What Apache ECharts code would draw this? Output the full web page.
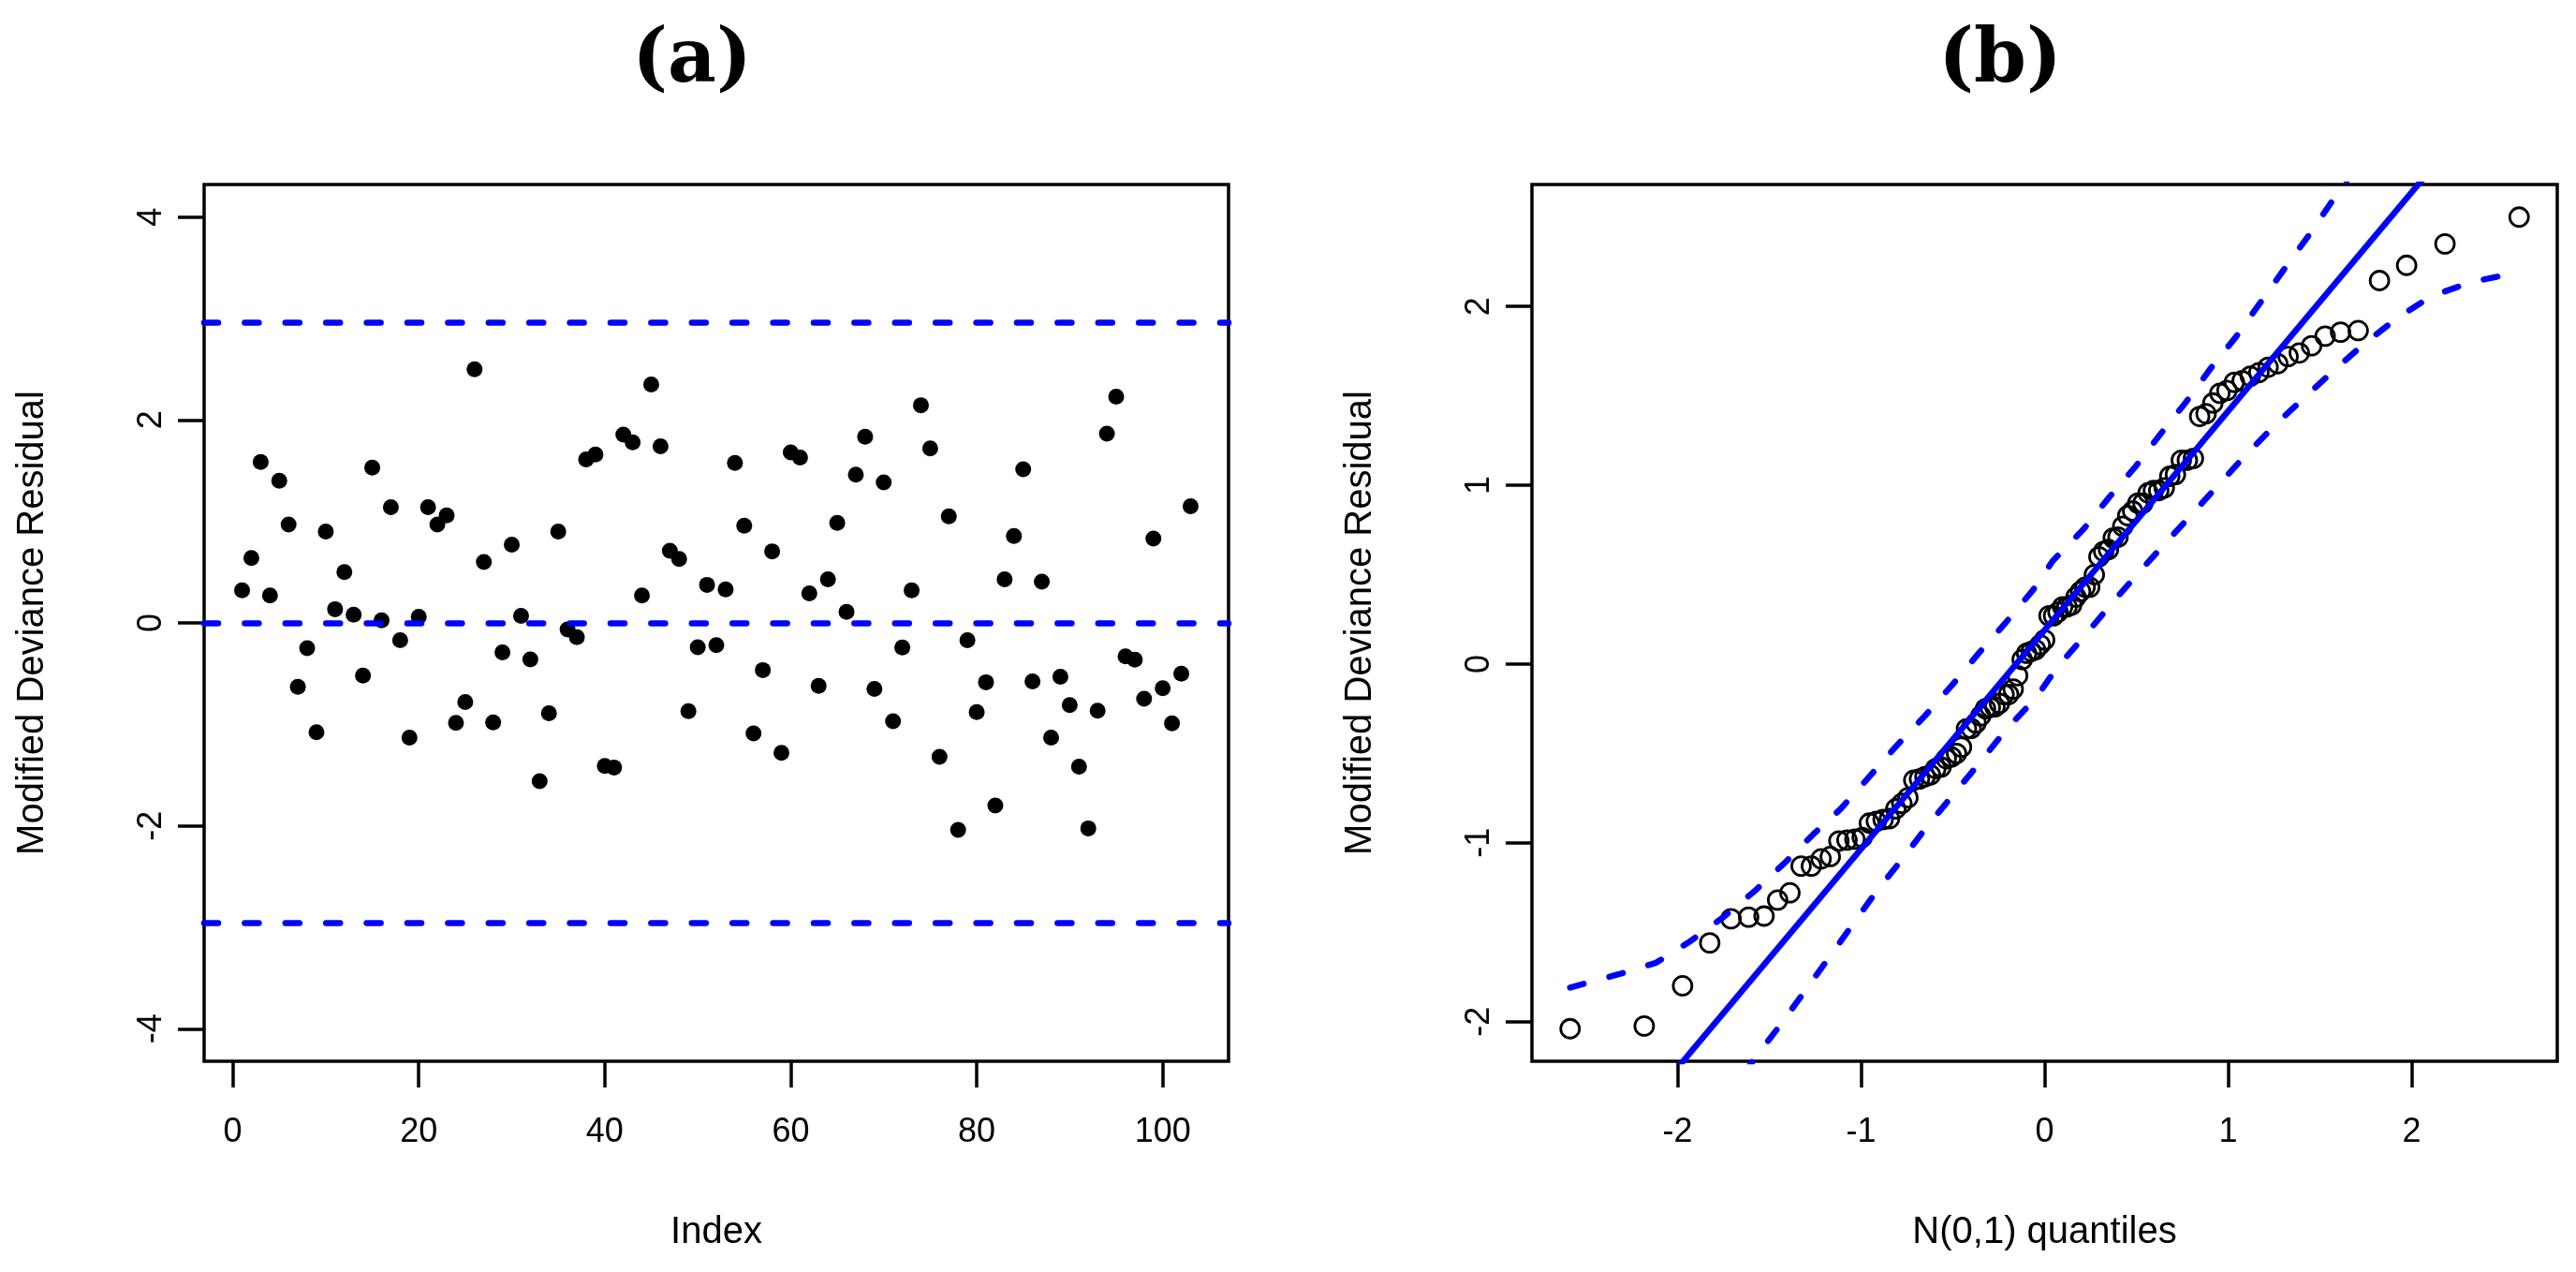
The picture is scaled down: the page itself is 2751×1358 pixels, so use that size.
<!DOCTYPE html>
<html>
<head>
<meta charset="utf-8">
<script src="https://cdn.jsdelivr.net/npm/echarts@6.0.0/dist/echarts.min.js"></script>
<style>
  html, body { margin: 0; padding: 0; background: #fff; }
  #main { width: 2751px; height: 1358px; }
</style>
</head>
<body>
<div id="main"></div>
<script>
// modified deviance residuals, in observation order (1..103)
var residuals = [
  0.32, 0.64, 1.585, 0.27, 1.40, 0.97, -0.63, -0.25, -1.077, 0.90,
  0.135, 0.50, 0.08, -0.52, 1.53, 0.025, 1.14, -0.17, -1.13, 0.06,
  1.14, 0.97, 1.06, -0.985, -0.78, 2.50, 0.60, -0.98, -0.29, 0.77,
  0.07, -0.36, -1.56, -0.89, 0.90, -0.065, -0.14, 1.61, 1.66, -1.41,
  -1.425, 1.856, 1.78, 0.27, 2.35, 1.74, 0.71, 0.63, -0.87, -0.24,
  0.375, -0.22, 0.33, 1.576, 0.957, -1.09, -0.465, 0.705, -1.28, 1.68,
  1.63, 0.29, -0.62, 0.43, 0.985, 0.108, 1.46, 1.834, -0.65, 1.385,
  -0.97, -0.243, 0.32, 2.145, 1.72, -1.32, 1.05, -2.04, -0.17, -0.88,
  -0.585, -1.80, 0.43, 0.856, 1.514, -0.576, 0.406, -1.13, -0.53, -0.81,
  -1.416, -2.025, -0.865, 1.865, 2.23, -0.33, -0.363, -0.748, 0.83, -0.643,
  -0.99, -0.50, 1.15
];

// N(0,1) quantiles for 103 points
var normQuantiles = [
  -2.586, -2.182, -1.973, -1.825, -1.709, -1.613, -1.529, -1.455, -1.388, -1.327,
  -1.271, -1.218, -1.168, -1.121, -1.077, -1.034, -0.994, -0.955, -0.917, -0.880,
  -0.845, -0.811, -0.778, -0.745, -0.713, -0.682, -0.652, -0.622, -0.593, -0.564,
  -0.536, -0.508, -0.480, -0.453, -0.426, -0.400, -0.374, -0.348, -0.322, -0.296,
  -0.271, -0.246, -0.221, -0.196, -0.171, -0.147, -0.122, -0.098, -0.073, -0.049,
  -0.024, 0,
  0.024, 0.049, 0.073, 0.098, 0.122, 0.147, 0.171, 0.196, 0.221, 0.246,
  0.271, 0.296, 0.322, 0.348, 0.374, 0.400, 0.426, 0.453, 0.480, 0.508,
  0.536, 0.564, 0.593, 0.622, 0.652, 0.682, 0.713, 0.745, 0.778, 0.811,
  0.845, 0.880, 0.917, 0.955, 0.994, 1.034, 1.077, 1.121, 1.168, 1.218,
  1.271, 1.327, 1.388, 1.455, 1.529, 1.613, 1.709, 1.825, 1.973, 2.182,
  2.586
];

var limitLines = [-2.96, 0, 2.96];

var xTicksA = [0, 20, 40, 60, 80, 100];
var yTicksA = [-4, -2, 0, 2, 4];
var xTicksB = [-2, -1, 0, 1, 2];
var yTicksB = [-2, -1, 0, 1, 2];

// fitted line and pointwise envelope of the qq plot
var qqLineX = [-2.794, 2.794];
var qqLineY = [-3.23, 3.61];

var upperEnvX = [-2.586, -2.323, -2.117, -1.932, -1.756, -1.58, -1.414, -1.258, -1.111, -0.955,
  -0.809, -0.652, -0.506, -0.359, -0.213, -0.066, 0.047, 0.213, 0.35, 0.496,
  0.633, 0.769, 0.906, 1.043, 1.17, 1.297, 1.433, 1.561, 1.70];
var upperEnvY = [-1.81, -1.736, -1.671, -1.551, -1.42, -1.27, -1.11, -0.95, -0.81, -0.63,
  -0.46, -0.29, -0.12, 0.06, 0.23, 0.41, 0.58, 0.755, 0.93, 1.105,
  1.288, 1.463, 1.655, 1.83, 2.013, 2.196, 2.388, 2.58, 2.78];

var lowerEnvX = [-1.64, -1.56, -1.434, -1.307, -1.17, -1.044, -0.918, -0.77, -0.634, -0.497,
  -0.36, -0.204, -0.047, 0.067, 0.213, 0.356, 0.497, 0.643, 0.799, 0.946,
  1.102, 1.259, 1.415, 1.58, 1.746, 1.922, 2.107, 2.322, 2.537, 2.586];
var lowerEnvY = [-2.29, -2.18, -2.01, -1.83, -1.635, -1.454, -1.274, -1.083, -0.90, -0.73,
  -0.56, -0.36, -0.19, -0.02, 0.15, 0.327, 0.493, 0.659, 0.834, 1.0,
  1.175, 1.34, 1.489, 1.646, 1.795, 1.935, 2.057, 2.135, 2.182, 2.19];

var BLUE = '#0000ff';
var FONT = 'Liberation Sans';
var DASH = [15, 28.4];

function pairs(xs, ys) {
  var out = [];
  for (var i = 0; i < xs.length; i++) out.push([xs[i], ys[i]]);
  return out;
}

var indexData = residuals.map(function (v, i) { return [i + 1, v]; });
var qqSample = residuals.slice().sort(function (a, b) { return a - b; });
var qqData = pairs(normQuantiles, qqSample);

function makeAxis(grid, min, max, ticks, name, isY) {
  return {
    type: 'value',
    gridIndex: grid,
    min: min,
    max: max,
    splitLine: { show: false },
    axisLine: { show: false, onZero: false },
    axisTick: {
      show: true, inside: false, length: 28,
      customValues: ticks,
      lineStyle: { color: '#000', width: 3.5 }
    },
    axisLabel: {
      customValues: ticks,
      margin: isY ? 38 : 58,
      rotate: isY ? 90 : 0,
      fontSize: 36,
      fontFamily: FONT,
      color: '#000'
    },
    name: name,
    nameLocation: 'middle',
    nameGap: 163,
    nameRotate: isY ? 90 : 0,
    nameTextStyle: { fontSize: 40, fontFamily: FONT, color: '#000' }
  };
}

var main = document.getElementById('main');
var myChart = echarts.init(main, null, { renderer: 'canvas' });

var titleStyle = { fontSize: 80, fontWeight: 'bold', fontFamily: 'DejaVu Serif', fill: '#000', align: 'center', verticalAlign: 'middle' };

var option = {
  animation: false,
  backgroundColor: '#fff',
  graphic: [
    { type: 'text', x: 739, y: 66, style: Object.assign({ text: '(a)' }, titleStyle) },
    { type: 'text', x: 2136, y: 66, style: Object.assign({ text: '(b)' }, titleStyle) }
  ],
  grid: [
    { left: 218, top: 197, width: 1094, height: 936, show: true, borderColor: '#000', borderWidth: 3.5, containLabel: false },
    { left: 1636, top: 197, width: 1095, height: 936, show: true, borderColor: '#000', borderWidth: 3.5, containLabel: false }
  ],
  xAxis: [
    makeAxis(0, -3.08, 107.08, xTicksA, 'Index', false),
    makeAxis(1, -2.794, 2.794, xTicksB, 'N(0,1) quantiles', false)
  ],
  yAxis: [
    makeAxis(0, -4.32, 4.32, yTicksA, 'Modified Deviance Residual', true),
    makeAxis(1, -2.222, 2.682, yTicksB, 'Modified Deviance Residual', true)
  ],
  series: [
    {
      type: 'scatter', xAxisIndex: 0, yAxisIndex: 0,
      data: indexData,
      symbol: 'circle', symbolSize: 17,
      itemStyle: { color: '#000', opacity: 1 },
      markLine: {
        silent: true, symbol: 'none',
        label: { show: false },
        lineStyle: { color: BLUE, width: 6.5, type: DASH, cap: 'round', opacity: 1 },
        data: limitLines.map(function (v) { return { yAxis: v }; })
      }
    },
    {
      type: 'scatter', xAxisIndex: 1, yAxisIndex: 1,
      data: qqData,
      symbol: 'circle', symbolSize: 20,
      itemStyle: { color: 'rgba(0,0,0,0)', borderColor: '#000', borderWidth: 2.8, opacity: 1 }
    },
    {
      type: 'line', xAxisIndex: 1, yAxisIndex: 1,
      data: pairs(qqLineX, qqLineY),
      showSymbol: false, clip: true,
      lineStyle: { color: BLUE, width: 6.5 }
    },
    {
      type: 'line', xAxisIndex: 1, yAxisIndex: 1,
      data: pairs(upperEnvX, upperEnvY),
      showSymbol: false, clip: true, smooth: false,
      lineStyle: { color: BLUE, width: 6.5, type: DASH, cap: 'round' }
    },
    {
      type: 'line', xAxisIndex: 1, yAxisIndex: 1,
      data: pairs(lowerEnvX, lowerEnvY),
      showSymbol: false, clip: true, smooth: false,
      lineStyle: { color: BLUE, width: 6.5, type: DASH, cap: 'round' }
    }
  ]
};

myChart.setOption(option);
</script>
</body>
</html>
